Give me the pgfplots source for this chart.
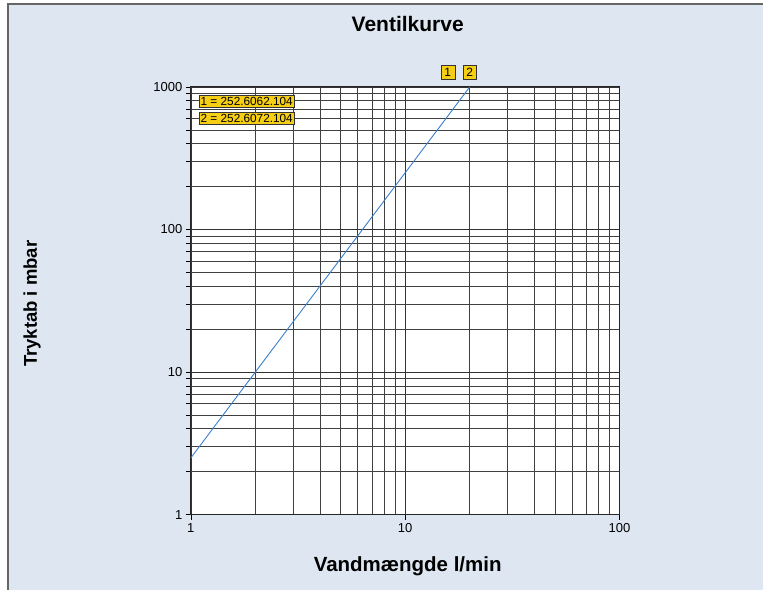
\documentclass[border=0pt]{standalone}
\usepackage{fontspec}
\setmainfont{Liberation Sans}
\usepackage{pgfplots}
\pgfplotsset{compat=1.18}
\definecolor{bgblue}{RGB}{222,231,241}
\definecolor{lineblue}{RGB}{58,128,204}
\definecolor{tagyellow}{RGB}{246,206,20}
\begin{document}
\begin{tikzpicture}[x=1pt,y=1pt]
\fill[white] (0,0) rectangle (764,590);
\fill[bgblue] (8,0) rectangle (764,586);
\draw[black!60, line width=1.2pt] (8,0) -- (8,586) -- (764,586);
\node[font=\bfseries\fontsize{21}{24}\selectfont] at (408,566) {Ventilkurve};
\node[font=\bfseries\fontsize{20.5}{24}\selectfont] at (408,23) {Vandmængde l/min};
\node[font=\bfseries\fontsize{18.5}{22}\selectfont, rotate=90] at (32,286) {Tryktab i mbar};
\begin{axis}[
  at={(191pt,75pt)}, anchor=south west,
  scale only axis, width=429pt, height=428pt,
  xmode=log, ymode=log,
  xmin=1, xmax=100, ymin=1, ymax=1000,
  axis background/.style={fill=white},
  grid=both,
  major grid style={black!80, line width=0.7pt},
  minor grid style={black!75, line width=0.6pt},
  axis line style={black!85, line width=1.1pt},
  xtick={1,10,100}, xticklabels={1,10,100},
  ytick={1,10,100,1000}, yticklabels={1,10,100,1000},
  xtick pos=bottom, ytick pos=left,
  tick align=outside,
  tick style={black, line width=0.6pt},
  major tick length=5pt, minor tick length=5pt,
  minor x tick style={draw=none},
  tick label style={font=\fontsize{13}{15}\selectfont},
  /pgf/number format/assume math mode=true,
  clip=false,
]
\addplot[lineblue, line width=0.9pt] coordinates {(1,2.5) (2,10) (4,40) (10,250) (20,1000)};
\node[fill=tagyellow, draw=black!80, inner sep=1.6pt, font=\fontsize{11.8}{13}\selectfont, anchor=west] at (axis cs:1.09,791) {1 = 252.6062.104};
\node[fill=tagyellow, draw=black!80, inner sep=1.6pt, font=\fontsize{11.8}{13}\selectfont, anchor=west] at (axis cs:1.09,601) {2 = 252.6072.104};
\node[fill=tagyellow, draw=black!80, inner sep=0pt, minimum size=14pt, font=\fontsize{12}{13}\selectfont] at (axis cs:15.8,1274) {1};
\node[fill=tagyellow, draw=black!80, inner sep=0pt, minimum size=14pt, font=\fontsize{12}{13}\selectfont] at (axis cs:20,1274) {2};
\end{axis}
\end{tikzpicture}
\end{document}
